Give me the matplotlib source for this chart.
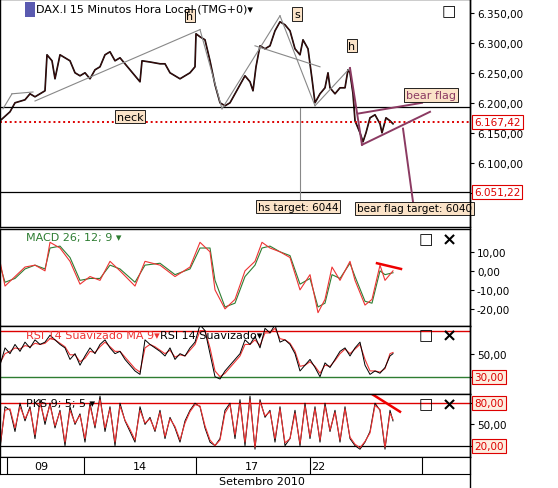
import matplotlib
matplotlib.use("Agg")
import matplotlib.pyplot as plt
from matplotlib.patches import Rectangle

W, H = 558, 489
# ---- data (x in bar-position units) ----
px = [0,10,15,25,30,35,45,47,52,55,60,65,70,75,80,85,90,95,100,105,110,115,120,125,130,135,140,142,150,160,165,170,175,180,185,190,195,196,200,205,210,215,220,225,230,235,240,245,250,253,256,260,265,270,275,280,285,290,295,300,303,308,312,315,320,325,328,330,335,340,345,348,350,353,355,360,363,366,370,375,380,382,386,390,393]
price = [6170,6185,6200,6205,6215,6210,6220,6280,6270,6240,6280,6275,6270,6250,6245,6250,6240,6255,6260,6280,6285,6270,6275,6265,6255,6245,6235,6270,6268,6265,6265,6250,6245,6240,6245,6250,6260,6315,6310,6305,6270,6230,6200,6195,6200,6215,6230,6245,6235,6220,6260,6295,6290,6295,6320,6335,6330,6320,6290,6280,6305,6290,6240,6200,6215,6225,6250,6225,6215,6225,6225,6255,6250,6215,6170,6150,6135,6150,6175,6180,6165,6150,6175,6170,6165]

mx = [0,5,15,25,35,45,50,60,70,80,90,100,110,120,135,145,160,175,190,200,210,215,225,235,245,255,262,270,280,290,300,310,318,325,332,340,350,355,365,372,380,385,393]
macd = [5,-8,-3,2,3,0,15,12,5,-7,-3,-5,5,0,-8,5,3,-3,2,15,10,-10,-20,-15,0,5,15,12,10,7,-10,-2,-22,-15,2,-5,5,-5,-18,-15,3,-5,0]
signal = [3,-6,-4,1,3,1,12,13,7,-5,-4,-4,3,1,-6,3,4,-2,1,12,12,-5,-19,-17,-3,3,12,13,10,8,-7,-4,-19,-17,-2,-4,4,-3,-16,-17,0,-2,-1]

rx = [0,5,10,15,20,25,30,35,40,45,50,55,60,65,70,75,80,85,90,95,100,105,110,115,120,125,130,135,140,145,150,155,160,165,170,175,180,185,190,195,200,205,210,215,220,225,230,235,240,245,250,255,260,265,270,275,280,285,290,295,300,305,310,315,320,325,330,335,340,345,350,355,360,365,370,375,380,385,390,393]
rsi = [40,55,50,58,52,60,55,62,58,60,66,62,58,55,45,50,40,48,55,50,58,62,55,50,52,45,40,35,32,62,58,55,52,48,55,45,50,48,55,60,75,70,50,30,28,35,40,45,50,62,58,65,55,72,68,75,60,62,58,50,35,40,45,38,30,42,38,45,52,55,48,55,60,40,32,35,33,38,55,52,]
rsi = rsi[:len(rx)-2] + [48,50]
rsi_ma = [v for v in rsi]
rsi_ma = [42,50,52,55,54,57,56,59,58,59,63,62,59,56,49,49,43,46,52,51,56,60,56,52,52,47,42,37,34,55,58,56,53,50,53,47,49,48,53,58,70,70,55,35,30,33,38,43,48,58,58,62,57,68,68,72,63,62,59,52,39,40,43,39,33,40,39,44,50,54,50,54,58,45,35,35,34,37,50,51]

kx = [0,5,10,15,20,25,30,35,40,45,50,55,60,65,70,75,80,85,90,95,100,105,110,115,120,125,130,135,140,145,150,155,160,165,170,175,180,185,190,195,200,205,210,215,220,225,230,235,240,245,250,255,260,265,270,275,280,285,290,295,300,305,310,315,320,325,330,335,340,345,350,355,360,365,370,375,380,385,390,393]
pks = [15,75,70,40,80,55,75,30,85,50,80,45,70,20,75,50,65,25,80,45,90,40,75,20,80,55,40,25,75,50,60,40,70,30,60,45,25,55,70,80,75,45,25,20,30,70,80,30,85,20,90,15,85,60,70,25,75,20,30,70,20,80,30,75,25,80,40,70,25,75,30,20,15,25,40,80,70,15,70,55]
pks_s = [20,70,72,45,75,58,72,35,80,55,77,48,68,25,70,52,63,30,76,48,85,45,72,25,76,56,43,28,70,52,58,42,67,33,58,47,28,52,68,78,76,48,28,20,28,66,78,35,80,25,85,18,82,62,68,30,72,24,30,66,23,76,33,72,28,76,42,67,28,72,32,22,17,26,38,77,71,18,66,57]

dates_pos = [41, 140, 252, 318]
dates_lab = ["09", "14", "17", "22"]
seps = [7, 84, 196, 310, 422]

fig = plt.figure(figsize=(W/100, H/100), dpi=100)
plt.rcParams['font.family'] = ['DejaVu Sans']
fs = 7.5
XR = (0, 470)

def ax_at(top, bot):
    return fig.add_axes([0, 1-bot/H, 470/W, (bot-top)/H])

def style(ax):
    ax.set_xlim(*XR)
    ax.yaxis.tick_right()
    ax.tick_params(axis='y', labelsize=fs, length=3, direction='out', pad=2)
    ax.set_xticks([])
    for s in ax.spines.values():
        s.set_color('black'); s.set_linewidth(1)

def icons(ax, y, close=True):
    ax.text(0.905 if close else 0.955, y, "□", transform=ax.transAxes, fontsize=11, va='center', ha='center')
    if close:
        ax.text(0.955, y, "×", transform=ax.transAxes, fontsize=13, va='center', ha='center', fontweight='bold')

# ---- main ----
ax = ax_at(0, 228)
style(ax)
ax.set_ylim(5993, 6373)
ax.set_yticks([6050,6100,6150,6200,6250,6300,6350])
ax.set_yticklabels(["", "6.100,00", "6.150,00", "6.200,00", "6.250,00", "6.300,00", "6.350,00"])
ax.plot(px, price, color='black', lw=1.2)
ax.plot(px, price, color='#8b1a1a', lw=0.5, alpha=0.6)
ax.axhline(6193, color='black', lw=0.9)
ax.axhline(6167.42, color='#dd0000', lw=1.4, ls=(0, (1, 1.5)))
ax.axhline(6051.22, color='black', lw=0.9)
g = '#888888'
for (a, b) in [((3, 6190), (12, 6215)), ((12, 6215), (33, 6218)), ((35, 6203), (200, 6322)), ((200, 6322), (222, 6190)),
               ((222, 6190), (280, 6345)), ((280, 6345), (315, 6195)), ((315, 6195), (350, 6258)), ((255, 6295), (320, 6260))]:
    ax.plot([a[0], b[0]], [a[1], b[1]], color=g, lw=0.8)
ax.plot([300, 300], [6192, 6040], color=g, lw=0.8)
pu = '#8b3a62'
for (a, b) in [((350, 6258), (362, 6130)), ((358, 6182), (422, 6200)), ((362, 6130), (430, 6185)), ((403, 6157), (413, 6035))]:
    ax.plot([a[0], b[0]], [a[1], b[1]], color=pu, lw=1.4)
bx = dict(boxstyle='square,pad=0.15', fc='#fbe3c8', ec='black', lw=0.6)
ax.text(117, 6177, "neck", fontsize=8, bbox=bx, va='center')
ax.text(190, 6345, "h", fontsize=8, bbox=bx, ha='center', va='center')
ax.text(297, 6348, "s", fontsize=8, bbox=bx, ha='center', va='center')
ax.text(352, 6295, "h", fontsize=8, bbox=bx, ha='center', va='center')
ax.text(406, 6213, "bear flag", fontsize=8, color='#8b3a62', bbox=bx, va='center')
ax.text(258, 6027, "hs target: 6044", fontsize=7.5, bbox=bx, va='center')
ax.text(357, 6024, "bear flag target: 6040", fontsize=7.5, bbox=bx, va='center')
ax.text(36/470, 1-10/228, "DAX.I 15 Minutos Hora Local (TMG+0)▾", transform=ax.transAxes, fontsize=8, va='center')
ax.add_patch(Rectangle((25/470, 1-18/228), 10/470, 15/228, transform=ax.transAxes, fc='#5a5ab0', ec='none'))
icons(ax, 1-12/228, close=False)
rb = dict(boxstyle='square,pad=0.2', fc='white', ec='#dd0000', lw=0.8)
ax.text(474, 6167.42, "6.167,42", fontsize=fs, color='#dd0000', bbox=rb, va='center', clip_on=False)
ax.text(474, 6051.22, "6.051,22", fontsize=fs, color='#dd0000', bbox=rb, va='center', clip_on=False)

# ---- MACD ----
a2 = ax_at(230, 327)
style(a2)
a2.set_ylim(-29, 22)
a2.set_yticks([-20, -10, 0, 10])
a2.set_yticklabels(["-20,00", "-10,00", "0,00", "10,00"])
a2.plot(mx, signal, color='#2e7d32', lw=0.8)
a2.plot(mx, macd, color='#ee3333', lw=0.8)
a2.plot([377, 401], [4, 1], color='#ee0000', lw=1.8)
a2.text(26, 18, "MACD 26; 12; 9 ▾", fontsize=8, color='#2e7d32', va='center')
icons(a2, 1-10/97)

# ---- RSI ----
a3 = ax_at(327, 395)
style(a3)
a3.set_ylim(15, 74)
a3.set_yticks([30, 50])
a3.set_yticklabels(["", "50,00"])
a3.axhline(70, color='#dd0000', lw=1)
a3.axhline(30, color='#2e7d32', lw=1)
a3.plot(rx, rsi_ma, color='#ee3333', lw=0.8)
a3.plot(rx, rsi, color='black', lw=0.7)
a3.text(26, 66, "RSI 14 Suavizado MA 9▾", fontsize=8, color='#ee3333', va='center')
a3.text(160, 66, "RSI 14 Suavizado▾", fontsize=8, color='black', va='center')
icons(a3, 1-9/68)
a3.text(474, 30, "30,00", fontsize=fs, color='#dd0000', bbox=dict(boxstyle='square,pad=0.2', fc='#fdeee0', ec='#dd0000', lw=0.8), va='center', clip_on=False)

# ---- PKS ----
a4 = ax_at(395, 458)
style(a4)
a4.set_ylim(4, 93)
a4.set_yticks([20, 50, 80])
a4.set_yticklabels(["", "50,00", ""])
a4.axhline(80, color='#dd0000', lw=1)
a4.axhline(20, color='black', lw=0.9)
a4.plot(kx, pks, color='black', lw=0.7)
a4.plot(kx, pks_s, color='#ee3333', lw=0.8)
a4.plot([373, 400], [92, 68], color='#ee0000', lw=1.8)
a4.text(26, 80, "PKS 9; 5; 5 ▾", fontsize=8, color='black', va='center')
icons(a4, 1-10/63)
for v in (80, 20):
    a4.text(474, v, f"{v},00", fontsize=fs, color='#dd0000', bbox=dict(boxstyle='square,pad=0.2', fc='#fdeee0', ec='#dd0000', lw=0.8), va='center', clip_on=False)

# ---- date band ----
a5 = fig.add_axes([0, 1-475/H, 470/W, 17/H])
a5.set_xlim(*XR); a5.set_ylim(0, 1)
a5.set_xticks([]); a5.set_yticks([])
for s in seps:
    a5.axvline(s, color='black', lw=0.8)
for p, l in zip(dates_pos, dates_lab):
    a5.text(p, 0.45, l, fontsize=8, ha='center', va='center')
for s in a5.spines.values():
    s.set_linewidth(0.8)
fig.text(262/W, 1-482/H, "Setembro 2010", fontsize=8, ha='center', va='center')
fig.add_artist(plt.Line2D([470/W, 470/W], [0, 1], color='black', lw=1))

fig.savefig("out.png", dpi=100)
